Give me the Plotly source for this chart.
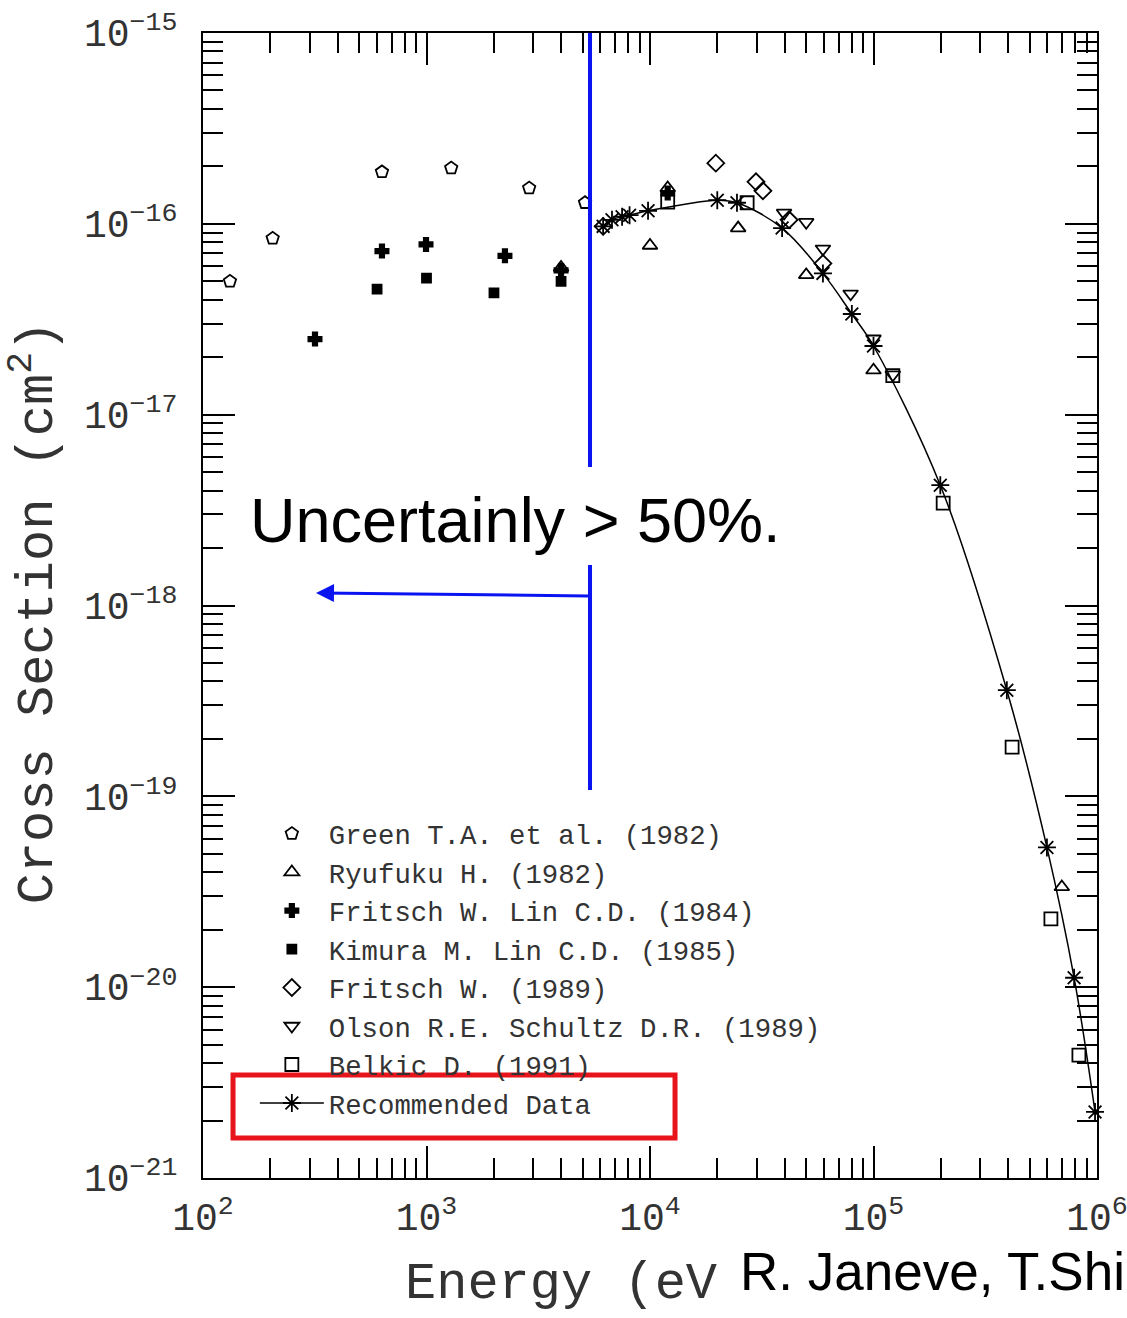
import plotly.graph_objects as go

# ---------------- data ----------------
green_E = [132, 205, 632, 1290, 2880, 5120]
green_s = [5.0e-17, 8.4e-17, 1.87e-16, 1.96e-16, 1.54e-16, 1.29e-16]

ryu_E = [4000, 1.0e4, 1.2e4, 2.48e4, 5.0e4, 1.0e5, 6.96e5]
ryu_s = [5.9e-17, 7.7e-17, 1.54e-16, 9.5e-17, 5.4e-17, 1.71e-17, 3.35e-20]

fl_E = [317, 632, 995, 2244, 4000, 1.2e4]
fl_s = [2.49e-17, 7.2e-17, 7.8e-17, 6.8e-17, 5.7e-17, 1.45e-16]

kim_E = [601, 1000, 2004, 4000]
kim_s = [4.55e-17, 5.2e-17, 4.35e-17, 5.0e-17]

fr89_E = [6170, 1.97e4, 2.98e4, 3.2e4, 4.19e4, 5.94e4]
fr89_s = [9.7e-17, 2.08e-16, 1.66e-16, 1.49e-16, 1.05e-16, 6.2e-17]

ols_E = [3.98e4, 5.0e4, 5.94e4, 7.9e4, 1.0e5, 1.22e5]
ols_s = [1.14e-16, 1.02e-16, 7.4e-17, 4.3e-17, 2.5e-17, 1.62e-17]

bel_E = [1.2e4, 2.72e4, 1.22e5, 2.05e5, 4.17e5, 6.22e5, 8.3e5]
bel_s = [1.3e-16, 1.29e-16, 1.6e-17, 3.44e-18, 1.81e-19, 2.28e-20, 4.4e-21]

rec_E = [6170, 6760, 7500, 8100, 9800, 2.0e4, 2.45e4, 3.9e4, 5.94e4, 8.0e4,
         1.0e5, 1.99e5, 3.95e5, 5.97e5, 7.9e5, 9.8e5]
rec_s = [9.7e-17, 1.05e-16, 1.09e-16, 1.11e-16, 1.17e-16, 1.33e-16, 1.29e-16,
         9.5e-17, 5.5e-17, 3.37e-17, 2.29e-17, 4.27e-18, 3.6e-19, 5.4e-20,
         1.12e-20, 2.22e-21]

series_names = ["Green T.A. et al. (1982)", "Ryufuku H. (1982)",
                "Fritsch W. Lin C.D. (1984)", "Kimura M. Lin C.D. (1985)",
                "Fritsch W. (1989)", "Olson R.E. Schultz D.R. (1989)",
                "Belkic D. (1991)", "Recommended Data"]

x_tickvals = [1e2, 1e3, 1e4, 1e5, 1e6]
x_ticktext = ["10<sup>2</sup>", "10<sup>3</sup>", "10<sup>4</sup>", "10<sup>5</sup>", "10<sup>6</sup>"]
y_tickvals = [1e-21, 1e-20, 1e-19, 1e-18, 1e-17, 1e-16, 1e-15]
y_ticktext = ["10<sup>−21</sup>", "10<sup>−20</sup>", "10<sup>−19</sup>", "10<sup>−18</sup>",
              "10<sup>−17</sup>", "10<sup>−16</sup>", "10<sup>−15</sup>"]

MONO = "Liberation Mono, DejaVu Sans Mono, monospace"
INK = "#333333"

fig = go.Figure()

def add(E, s, name, symbol, size=13, mode="markers"):
    fig.add_trace(go.Scatter(
        x=E, y=s, mode=mode, name=name, cliponaxis=False,
        marker=dict(symbol=symbol, size=size, color="black",
                    line=dict(color="black", width=1.8)),
        line=dict(color="black", width=1.5, shape="spline"),
    ))

add(green_E, green_s, series_names[0], "pentagon-open")
add(ryu_E, ryu_s, series_names[1], "triangle-up-open")
add(fl_E, fl_s, series_names[2], "cross", size=11)
add(kim_E, kim_s, series_names[3], "square", size=9)
add(fr89_E, fr89_s, series_names[4], "diamond-open")
add(ols_E, ols_s, series_names[5], "triangle-down-open")
add(bel_E, bel_s, series_names[6], "square-open")
add(rec_E, rec_s, series_names[7], "asterisk-open", size=15, mode="lines+markers")

axis_common = dict(
    type="log", showgrid=False, zeroline=False, automargin=False,
    showline=True, linecolor="black", linewidth=2,
    mirror="allticks", ticks="inside", ticklen=32, tickwidth=1.5, tickcolor="black",
    minor=dict(ticks="inside", ticklen=20, tickwidth=1.5, tickcolor="black", dtick="D1", showgrid=False),
    tickfont=dict(family=MONO, size=38, color=INK),
    ticklabeloverflow="allow",
)

fig.update_xaxes(range=[2, 6], tickmode="array", tickvals=x_tickvals, ticktext=x_ticktext,
                 ticklabelstandoff=4, **axis_common)
fig.update_yaxes(range=[-21, -15], tickmode="array", tickvals=y_tickvals, ticktext=y_ticktext,
                 ticklabelstandoff=16, **axis_common)

fig.update_layout(
    width=1127, height=1318,
    margin=dict(l=203, r=30, t=33, b=140, autoexpand=False),
    paper_bgcolor="white", plot_bgcolor="white",
    showlegend=True,
    legend=dict(x=0.058, y=0.322, xanchor="left", yanchor="top",
                bgcolor="rgba(0,0,0,0)", font=dict(family=MONO, size=27.3, color=INK),
                itemwidth=64, tracegroupgap=0),
)

# blue annotation lines (paper coords)
fig.add_shape(type="line", xref="paper", yref="paper", x0=0.4329, x1=0.4329, y0=1.0, y1=0.621,
              line=dict(color="#0a14f0", width=4))
fig.add_shape(type="line", xref="paper", yref="paper", x0=0.4329, x1=0.4329, y0=0.5354, y1=0.3389,
              line=dict(color="#0a14f0", width=4))
fig.add_annotation(xref="paper", yref="paper", x=0.1264, y=0.511, ax=274, ay=3,
                   showarrow=True, arrowhead=2, arrowsize=1.2, arrowwidth=3, arrowcolor="#0a14f0", text="")
fig.add_annotation(xref="paper", yref="paper", x=0.349, y=0.5747, text="Uncertainly > 50%.",
                   showarrow=False, font=dict(family="Liberation Sans, Arial", size=63, color="black"))

# red highlight box
fig.add_shape(type="rect", xref="paper", yref="paper", x0=0.0336, x1=0.528, y0=0.0349, y1=0.090,
              line=dict(color="#e8141b", width=5), fillcolor="rgba(0,0,0,0)", layer="above")

# axis titles
fig.add_annotation(xref="paper", yref="paper", x=-0.188, y=0.494, xanchor="center", yanchor="middle",
                   text="Cross Section (cm<sup>2</sup>)",
                   textangle=-90, showarrow=False, font=dict(family=MONO, size=52, color=INK))
fig.add_annotation(xref="paper", yref="paper", x=0.2237, y=-0.093, xanchor="left", yanchor="middle",
                   text="Energy (eV",
                   showarrow=False, font=dict(family=MONO, size=52, color=INK))
fig.add_annotation(xref="paper", yref="paper", x=0.598, y=-0.082, xanchor="left", yanchor="middle",
                   text="R. Janeve, T.Shi",
                   showarrow=False, bgcolor="white", font=dict(family="Liberation Sans, Arial", size=53, color="black"))

fig.write_html("out.html")
